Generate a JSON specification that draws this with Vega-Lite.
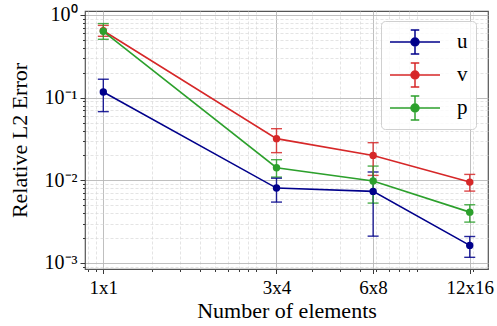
{
  "$schema": "https://vega.github.io/schema/vega-lite/v6.json",
  "width": 403,
  "height": 258,
  "autosize": {"type": "none"},
  "padding": {"left": 85, "top": 11, "right": 9, "bottom": 57},
  "config": {
    "font": "Liberation Serif",
    "view": {"stroke": "#555555", "strokeWidth": 1.2},
    "axis": {"domain": false, "tickColor": "#222222", "tickWidth": 0.9, "labelColor": "#000000", "titleColor": "#000000", "titleFontWeight": "normal"}
  },
  "datasets": {
    "errors": [
      {"field": "u", "elements": 1, "err": 0.117, "lo": 0.0677, "hi": 0.167},
      {"field": "u", "elements": 12, "err": 0.00805, "lo": 0.00545, "hi": 0.0106},
      {"field": "u", "elements": 48, "err": 0.00734, "lo": 0.00211, "hi": 0.0126},
      {"field": "u", "elements": 192, "err": 0.00163, "lo": 0.00117, "hi": 0.00209},
      {"field": "v", "elements": 1, "err": 0.645, "lo": 0.552, "hi": 0.748},
      {"field": "v", "elements": 12, "err": 0.0319, "lo": 0.0216, "hi": 0.0421},
      {"field": "v", "elements": 48, "err": 0.02, "lo": 0.01146, "hi": 0.0285},
      {"field": "v", "elements": 192, "err": 0.00951, "lo": 0.0074, "hi": 0.01178},
      {"field": "p", "elements": 1, "err": 0.635, "lo": 0.508, "hi": 0.787},
      {"field": "p", "elements": 12, "err": 0.0142, "lo": 0.01093, "hi": 0.01775},
      {"field": "p", "elements": 48, "err": 0.0098, "lo": 0.0053, "hi": 0.01486},
      {"field": "p", "elements": 192, "err": 0.00412, "lo": 0.00312, "hi": 0.00506}
    ]
  },
  "data": {"name": "errors"},
  "resolve": {"axis": {"x": "independent", "y": "independent"}},
  "layer": [
    {
      "mark": {"type": "point", "opacity": 0},
      "encoding": {
        "x": {
          "field": "elements", "type": "quantitative",
          "scale": {"type": "log", "domain": [0.769, 249.5], "nice": false},
          "axis": {
            "orient": "bottom", "values": [0.8, 0.9, 2, 3, 4, 5, 6, 7, 8, 9, 20, 30, 40, 50, 60, 70, 80, 90, 200],
            "labels": false, "tickSize": 2.5, "title": null,
            "grid": true, "gridColor": "#d9d9d9", "gridDash": [3, 2], "gridWidth": 0.7
          }
        },
        "y": {
          "field": "err", "type": "quantitative",
          "scale": {"type": "log", "domain": [0.000845, 1.117], "nice": false},
          "axis": {
            "orient": "left", "values": [0.0009, 0.002, 0.003, 0.004, 0.005, 0.006, 0.007, 0.008, 0.009, 0.02, 0.03, 0.04, 0.05, 0.06, 0.07, 0.08, 0.09, 0.2, 0.3, 0.4, 0.5, 0.6, 0.7, 0.8, 0.9],
            "labels": false, "tickSize": 2.5, "title": null,
            "grid": true, "gridColor": "#d9d9d9", "gridDash": [3, 2], "gridWidth": 0.7
          }
        }
      }
    },
    {
      "mark": {"type": "errorbar", "ticks": {"size": 11, "thickness": 1.4, "opacity": 0.85}, "rule": {"strokeWidth": 1.4, "opacity": 0.85}},
      "encoding": {
        "x": {"field": "elements", "type": "quantitative", "axis": null},
        "y": {"field": "lo", "type": "quantitative", "axis": null},
        "y2": {"field": "hi"},
        "color": {"field": "field", "type": "nominal"}
      }
    },
    {
      "mark": {"type": "line", "strokeWidth": 1.6},
      "encoding": {
        "x": {
          "field": "elements", "type": "quantitative",
          "axis": {
            "orient": "bottom", "values": [1, 12, 48, 192],
            "labelExpr": "datum.value == 1 ? '1x1' : datum.value == 12 ? '3x4' : datum.value == 48 ? '6x8' : '12x16'",
            "labelFontSize": 19, "labelPadding": 5, "tickSize": 4.5,
            "title": "Number of elements", "titleFontSize": 22, "titlePadding": 3,
            "grid": true, "gridColor": "#b8b8b8", "gridWidth": 0.9
          }
        },
        "y": {
          "field": "err", "type": "quantitative",
          "axis": {
            "orient": "left", "values": [0.001, 0.01, 0.1, 1],
            "labelExpr": "datum.value >= 0.5 ? '10⁰' : datum.value >= 0.05 ? '10⁻¹' : datum.value >= 0.005 ? '10⁻²' : '10⁻³'",
            "labelFontSize": 20, "labelPadding": 3, "tickSize": 5,
            "title": "Relative L2 Error", "titleFontSize": 22, "titlePadding": 13,
            "grid": true, "gridColor": "#b8b8b8", "gridWidth": 0.9
          }
        },
        "color": {
          "field": "field", "type": "nominal",
          "scale": {"domain": ["u", "v", "p"], "range": ["#00008b", "#d62728", "#2ca02c"]},
          "legend": {
            "title": null, "orient": "none", "legendX": 296, "legendY": 10,
            "symbolType": "M-1,0H1M0,-0.48V0.48M-0.17,-0.48H0.17M-0.17,0.48H0.17M0.16,0A0.16,0.16 0 1,1 -0.16,0A0.16,0.16 0 1,1 0.16,0Z",
            "symbolSize": 2500, "symbolStrokeWidth": 1.5, "symbolOpacity": 1,
            "labelFontSize": 21, "labelOffset": 16, "labelColor": "#000000",
            "clipHeight": 26, "padding": 8, "rowPadding": 7,
            "fillColor": "rgba(255,255,255,0.8)", "strokeColor": "#d0d0d0", "cornerRadius": 4,
            "encode": {"symbols": {"update": {"fill": {"scale": "color", "field": "value"}, "stroke": {"scale": "color", "field": "value"}}}}
          }
        }
      }
    },
    {
      "mark": {"type": "point", "filled": true, "size": 55, "opacity": 1},
      "encoding": {
        "x": {"field": "elements", "type": "quantitative", "axis": null},
        "y": {"field": "err", "type": "quantitative", "axis": null},
        "color": {"field": "field", "type": "nominal"}
      }
    }
  ]
}
